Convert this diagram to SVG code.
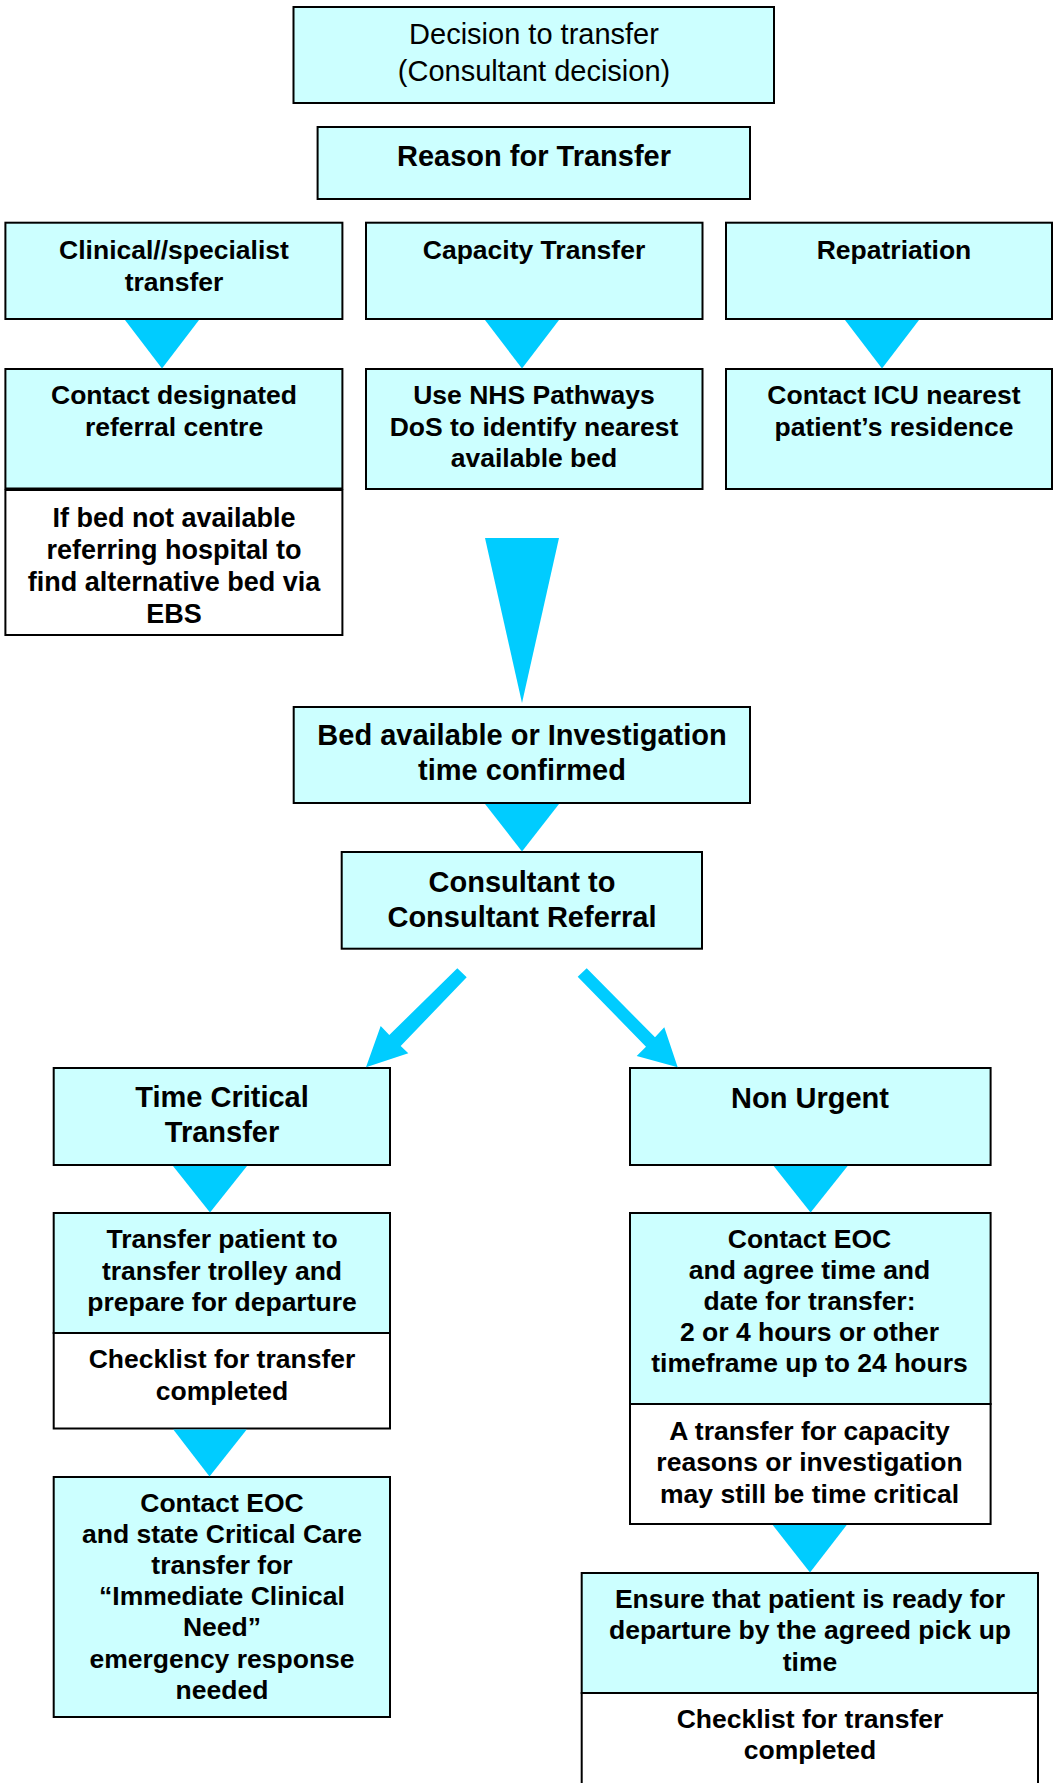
<svg xmlns="http://www.w3.org/2000/svg" width="1053" height="1783" viewBox="0 0 1053 1783">
<style>
.box{fill:#CCFFFF;stroke:#000;stroke-width:2}
.wbox{fill:#FFFFFF;stroke:#000;stroke-width:2}
.t{font-family:"Liberation Sans",Arial,sans-serif;font-weight:bold;font-size:26.5px;text-anchor:middle;fill:#000}
.tl{font-family:"Liberation Sans",Arial,sans-serif;font-weight:bold;font-size:29px;text-anchor:middle;fill:#000}
.tr{font-family:"Liberation Sans",Arial,sans-serif;font-weight:normal;font-size:29px;text-anchor:middle;fill:#000}
.arr{fill:#00CCFF;stroke:none}
</style>
<rect width="1053" height="1783" fill="#FFFFFF"/>
<g id="nodes">
<g id="decision">
<rect class="box" x="293.5" y="7" width="480.5" height="96"/>
<text class="tr" x="534" y="44">Decision to transfer</text>
<text class="tr" x="534" y="81">(Consultant decision)</text>
</g>
<g id="reason">
<rect class="box" x="317.6" y="127" width="432.4" height="72"/>
<text class="tl" x="534" y="166">Reason for Transfer</text>
</g>
<g id="clinical">
<rect class="box" x="5.4" y="222.7" width="337" height="96.3"/>
<text class="t" x="174" y="258.8">Clinical//specialist</text>
<text class="t" x="174" y="290.5">transfer</text>
</g>
<g id="capacity">
<rect class="box" x="366" y="222.7" width="336.5" height="96.3"/>
<text class="t" x="534" y="258.8">Capacity Transfer</text>
</g>
<g id="repatriation">
<rect class="box" x="726" y="222.7" width="326" height="96.3"/>
<text class="t" x="894" y="258.8">Repatriation</text>
</g>
<g id="contact-designated">
<rect class="box" x="5.4" y="369" width="337" height="119.5"/>
<text class="t" x="174" y="404.3">Contact designated</text>
<text class="t" x="174" y="436">referral centre</text>
</g>
<g id="ebs">
<rect class="wbox" x="5.4" y="490" width="337" height="145"/>
<text class="t" style="font-size:27px" x="174" y="526.5">If bed not available</text>
<text class="t" style="font-size:27px" x="174" y="558.5">referring hospital to</text>
<text class="t" style="font-size:27px" x="174" y="590.5">find alternative bed via</text>
<text class="t" style="font-size:27px" x="174" y="623">EBS</text>
</g>
<g id="nhs">
<rect class="box" x="366" y="369" width="336.5" height="120"/>
<text class="t" x="534" y="404.3">Use NHS Pathways</text>
<text class="t" x="534" y="435.7">DoS to identify nearest</text>
<text class="t" x="534" y="467">available bed</text>
</g>
<g id="icu">
<rect class="box" x="726" y="369" width="326" height="120"/>
<text class="t" x="894" y="404.3">Contact ICU nearest</text>
<text class="t" x="894" y="436">patient’s residence</text>
</g>
<g id="bed">
<rect class="box" x="293.7" y="707" width="456.3" height="96"/>
<text class="tl" x="522" y="745">Bed available or Investigation</text>
<text class="tl" x="522" y="780">time confirmed</text>
</g>
<g id="c2c">
<rect class="box" x="341.7" y="852" width="360.3" height="96.7"/>
<text class="tl" x="522" y="891.5">Consultant to</text>
<text class="tl" x="522" y="926.5">Consultant Referral</text>
</g>
<g id="time-critical">
<rect class="box" x="53.7" y="1068" width="336.3" height="97"/>
<text class="tl" x="222" y="1107">Time Critical</text>
<text class="tl" x="222" y="1141.5">Transfer</text>
</g>
<g id="non-urgent">
<rect class="box" x="630" y="1068" width="360.6" height="97"/>
<text class="tl" x="810" y="1107.5">Non Urgent</text>
</g>
<g id="transfer-patient">
<rect class="box" x="53.7" y="1213" width="336.3" height="120"/>
<text class="t" x="222" y="1248">Transfer patient to</text>
<text class="t" x="222" y="1279.5">transfer trolley and</text>
<text class="t" x="222" y="1311">prepare for departure</text>
</g>
<g id="checklist-tc">
<rect class="wbox" x="53.7" y="1333" width="336.3" height="95.5"/>
<text class="t" x="222" y="1368">Checklist for transfer</text>
<text class="t" x="222" y="1400">completed</text>
</g>
<g id="eoc-tc">
<rect class="box" x="53.7" y="1477" width="336.3" height="240"/>
<text class="t" x="222" y="1511.5">Contact EOC</text>
<text class="t" x="222" y="1542.5">and state Critical Care</text>
<text class="t" x="222" y="1574">transfer for</text>
<text class="t" x="222" y="1605.2">“Immediate Clinical</text>
<text class="t" x="222" y="1636">Need”</text>
<text class="t" x="222" y="1667.5">emergency response</text>
<text class="t" x="222" y="1698.5">needed</text>
</g>
<g id="eoc-nu">
<rect class="box" x="630" y="1213" width="360.6" height="191"/>
<text class="t" x="809.5" y="1248">Contact EOC</text>
<text class="t" x="809.5" y="1279">and agree time and</text>
<text class="t" x="809.5" y="1310">date for transfer:</text>
<text class="t" x="809.5" y="1341">2 or 4 hours or other</text>
<text class="t" x="809.5" y="1372">timeframe up to 24 hours</text>
</g>
<g id="capacity-note">
<rect class="wbox" x="630" y="1404" width="360.6" height="120"/>
<text class="t" x="809.5" y="1439.5">A transfer for capacity</text>
<text class="t" x="809.5" y="1471">reasons or investigation</text>
<text class="t" x="809.5" y="1502.5">may still be time critical</text>
</g>
<g id="ensure">
<rect class="box" x="581.7" y="1573" width="456.3" height="120"/>
<text class="t" x="810" y="1607.5">Ensure that patient is ready for</text>
<text class="t" x="810" y="1639">departure by the agreed pick up</text>
<text class="t" x="810" y="1670.5">time</text>
</g>
<g id="checklist-nu">
<rect class="wbox" x="581.7" y="1693" width="456.3" height="110"/>
<text class="t" x="810" y="1727.5">Checklist for transfer</text>
<text class="t" x="810" y="1759">completed</text>
</g>
</g>
<g id="connectors">
<polygon class="arr" points="125,320 199,320 162,368.5"/>
<polygon class="arr" points="485,320 559,320 522,368.5"/>
<polygon class="arr" points="845,320 919,320 882,368.5"/>
<polygon class="arr" points="485,538 559,538 522,703"/>
<polygon class="arr" points="485,804 559,804 522,851.5"/>
<polygon class="arr" points="457.3,968.3 466.7,977.3 400.7,1046 408.3,1053.3 366,1067.3 380.7,1026 389.3,1035"/>
<polygon class="arr" points="586.7,968.3 577.7,976.7 646,1046.7 636.7,1056 677.7,1067.3 664.3,1027.3 655,1037.3"/>
<polygon class="arr" points="173,1166 247,1166 210,1212.5"/>
<polygon class="arr" points="773.7,1166 847.6,1166 810.6,1212.5"/>
<polygon class="arr" points="173.3,1429.5 246.7,1429.5 209.5,1476.5"/>
<polygon class="arr" points="772.7,1525 846.7,1525 810,1572.5"/>
</g>
</svg>
